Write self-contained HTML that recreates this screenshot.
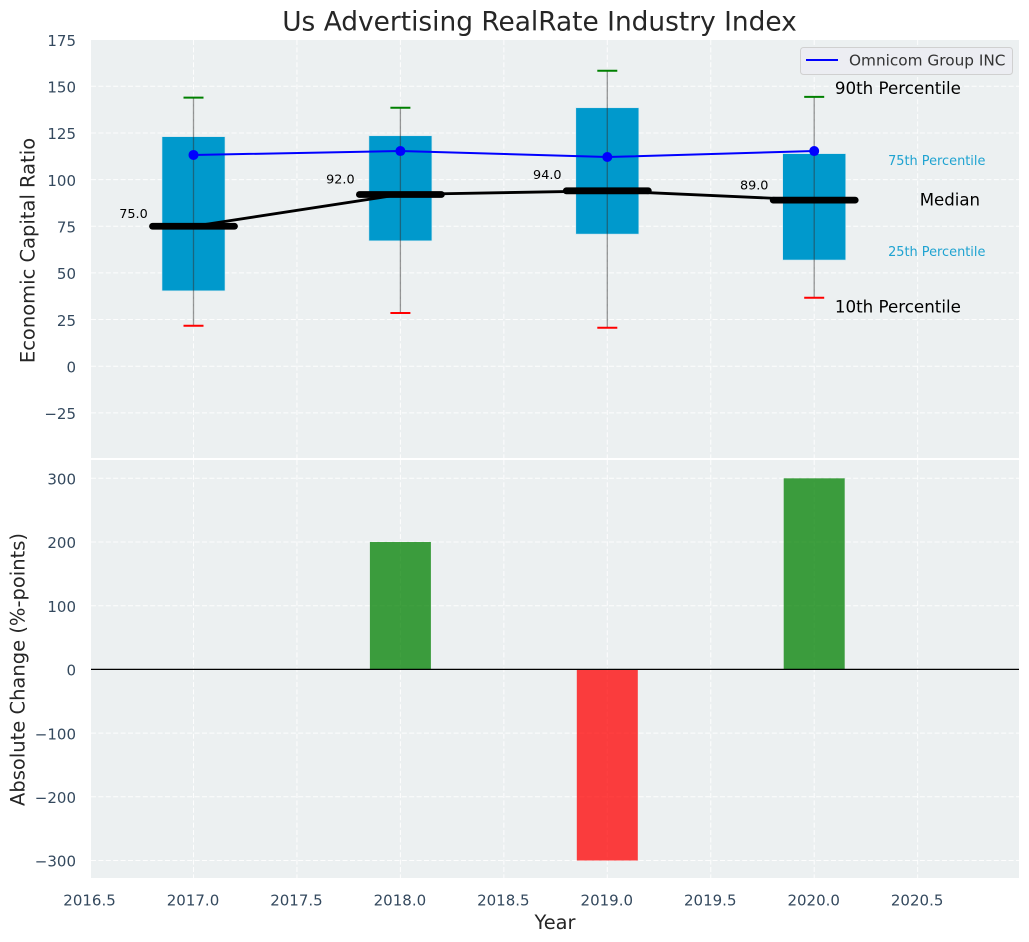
<!DOCTYPE html>
<html>
<head>
<meta charset="utf-8">
<title>Us Advertising RealRate Industry Index</title>
<style>
html,body{margin:0;padding:0;background:#fff;width:1029px;height:942px;overflow:hidden}
svg{display:block}
text{font-family:"DejaVu Sans","Liberation Sans",sans-serif}
</style>
</head>
<body>
<svg id="chart" xmlns="http://www.w3.org/2000/svg" width="1029" height="942" viewBox="0 0 1029 942"></svg>
<script>
const years = [2017, 2018, 2019, 2020];
const p10 = [21.7, 28.5, 20.6, 36.7];
const p25 = [40.4, 67.2, 70.8, 56.9];
const median = [75, 92, 94, 89];
const p75 = [123, 123.5, 138.5, 113.9];
const p90 = [143.9, 138.5, 158.3, 144.3];
const company = [113.2, 115.3, 112.1, 115.3];
const changes = [0, 200, -300, 300];
const medianLabels = ['75.0', '92.0', '94.0', '89.0'];
const xTicks = [2016.5, 2017, 2017.5, 2018, 2018.5, 2019, 2019.5, 2020, 2020.5];
const xTickLabels = ['2016.5', '2017.0', '2017.5', '2018.0', '2018.5', '2019.0', '2019.5', '2020.0', '2020.5'];
const topTicks = [175, 150, 125, 100, 75, 50, 25, 0, -25];
const topTickLabels = ['175', '150', '125', '100', '75', '50', '25', '0', '\u221225'];
const bottomTicks = [300, 200, 100, 0, -100, -200, -300];
const bottomTickLabels = ['300', '200', '100', '0', '\u2212100', '\u2212200', '\u2212300'];

const NS = 'http://www.w3.org/2000/svg';
const svg = document.getElementById('chart');
const left = 91, right = 1019;
const topY0 = 40, topY1 = 458, botY0 = 460, botY1 = 878;

function x(v) { return 193.5 + (v - 2017) * 206.9; }
function yTop(v) { return 366.2 - v * 1.866; }
function yBot(v) { return 669.4 - v * 0.637; }

function mk(tag, name, attrs, txt) {
  const el = document.createElementNS(NS, tag);
  
  
  for (const k in attrs) el.setAttribute(k, attrs[k]);
  if (txt !== undefined) el.textContent = txt;
  svg.appendChild(el);
  return el;
}
function line(name, x1, y1, x2, y2, stroke, w, extra) {
  return mk('line', name, Object.assign({x1: x1, y1: y1, x2: x2, y2: y2, stroke: stroke, 'stroke-width': w}, extra || {}));
}
function text(name, tx, ty, s, size, fill, anchor, extra) {
  return mk('text', name, Object.assign({x: tx, y: ty, 'font-size': size, fill: fill, 'text-anchor': anchor || 'start', 'dominant-baseline': 'central'}, extra || {}), s);
}

const BG = '#ecf0f1';
const TICK = '#34495e';
const gridStyle = {'stroke-dasharray': '5 2.4', opacity: 0.9};

mk('rect', 'top-panel-background', {x: left, y: topY0, width: right - left, height: topY1 - topY0, fill: BG});
mk('rect', 'bottom-panel-background', {x: left, y: botY0, width: right - left, height: botY1 - botY0, fill: BG});

xTicks.forEach(function (t, i) {
  const px = x(t);
  if (px >= left) {
    line('top-x-gridline', px, topY0, px, topY1, '#fff', 1, gridStyle);
    line('bottom-x-gridline', px, botY0, px, botY1, '#fff', 1, gridStyle);
  }
  text('x-tick-label', px - 0.5, 900.5, xTickLabels[i], 15, TICK, 'middle');
});
topTicks.forEach(function (t, i) {
  const py = yTop(t);
  if (i > 0) line('top-y-gridline', left, py, right, py, '#fff', 1, gridStyle);
  text('top-y-tick-label', 76, py + 1.2, topTickLabels[i], 15, TICK, 'end');
});
bottomTicks.forEach(function (t, i) {
  const py = yBot(t);
  line('bottom-y-gridline', left, py, right, py, '#fff', 1, gridStyle);
  text('bottom-y-tick-label', 76, py + 1.2, bottomTickLabels[i], 15, TICK, 'end');
});

/* top panel boxes */
const halfBox = 31.5;
years.forEach(function (yr, i) {
  const cx = x(yr);
  mk('rect', 'box-' + yr, {x: cx - halfBox, y: yTop(p75[i]), width: halfBox * 2, height: yTop(p25[i]) - yTop(p75[i]), fill: '#0099cc', stroke: '#cfe6ee', 'stroke-width': 0.6});
});
years.forEach(function (yr, i) {
  const cx = x(yr);
  line('whisker-' + yr, cx, yTop(p90[i]), cx, yTop(p10[i]), '#333', 1.3, {opacity: 0.5});
  line('cap-90th-' + yr, cx - 10, yTop(p90[i]), cx + 10, yTop(p90[i]), '#008000', 2);
  line('cap-10th-' + yr, cx - 10, yTop(p10[i]), cx + 10, yTop(p10[i]), '#ff0000', 2);
});

/* median connector */
mk('polyline', 'median-trend-line', {
  points: years.map(function (yr, i) { return x(yr) + ',' + yTop(median[i]); }).join(' '),
  fill: 'none', stroke: '#000', 'stroke-width': 2.8
});
years.forEach(function (yr, i) {
  const cx = x(yr);
  line('median-bar-' + yr, cx - 41, yTop(median[i]), cx + 41, yTop(median[i]), '#000', 6.8, {'stroke-linecap': 'round'});
  text('median-value-' + yr, cx - 60, yTop(median[i] * 1.09) + 0.7, medianLabels[i], 12.8, '#000', 'middle');
});

/* company series */
mk('polyline', 'company-line', {
  points: years.map(function (yr, i) { return x(yr) + ',' + yTop(company[i]); }).join(' '),
  fill: 'none', stroke: '#0000ff', 'stroke-width': 2
});
years.forEach(function (yr, i) {
  mk('circle', 'company-point-' + yr, {cx: x(yr), cy: yTop(company[i]), r: 5, fill: '#0000ff'});
});

/* percentile annotations, anchored to the last box */
const last = years.length - 1;
const lastYear = years[last];
text('annotation-90th-percentile', x(lastYear + 0.1), yTop(p90[last] + 4.9), '90th Percentile', 16.7, '#000');
text('annotation-10th-percentile', x(lastYear + 0.1), yTop(p10[last] - 4.8), '10th Percentile', 16.7, '#000');
text('annotation-median', x(lastYear + 0.51), yTop(median[last]), 'Median', 16.6, '#000');
text('annotation-75th-percentile', x(lastYear + 0.357), yTop(p75[last] - 3.9) + 0.8, '75th Percentile', 12.9, '#1fa3d1');
text('annotation-25th-percentile', x(lastYear + 0.357), yTop(p25[last] + 4.7) + 1.2, '25th Percentile', 12.9, '#1fa3d1');

/* legend */
mk('rect', 'legend-box', {x: 800.5, y: 47.5, width: 212, height: 27, rx: 3, fill: '#ecedf2', stroke: '#d0d0d0', 'stroke-width': 1});
line('legend-line-sample', 806, 60, 838, 60, '#0000ff', 2);
text('legend-label', 849, 60.5, 'Omnicom Group INC', 15.3, '#333', 'start');

/* bars */
years.forEach(function (yr, i) {
  const v = changes[i];
  if (v === 0) return;
  const y0 = yBot(Math.max(v, 0));
  const y1 = yBot(Math.min(v, 0));
  const fill = v > 0 ? '#008000' : '#ff0000';
  mk('rect', 'change-bar-' + yr, {x: x(yr) - 30.5, y: y0, width: 61, height: y1 - y0, fill: fill, 'fill-opacity': 0.75});
});
line('zero-line', left, yBot(0), right, yBot(0), '#000', 1.3);

/* titles */
text('chart-title', 539.5, 22, 'Us Advertising RealRate Industry Index', 26.4, '#262626', 'middle');
text('x-axis-title', 555, 922.5, 'Year', 19.4, '#262626', 'middle');
text('top-y-axis-title', 28, 250.5, 'Economic Capital Ratio', 19.5, '#262626', 'middle', {transform: 'rotate(-90 28 250.5)'});
text('bottom-y-axis-title', 18, 669.5, 'Absolute Change (%-points)', 19.5, '#262626', 'middle', {transform: 'rotate(-90 18 669.5)'});
</script>
</body>
</html>
